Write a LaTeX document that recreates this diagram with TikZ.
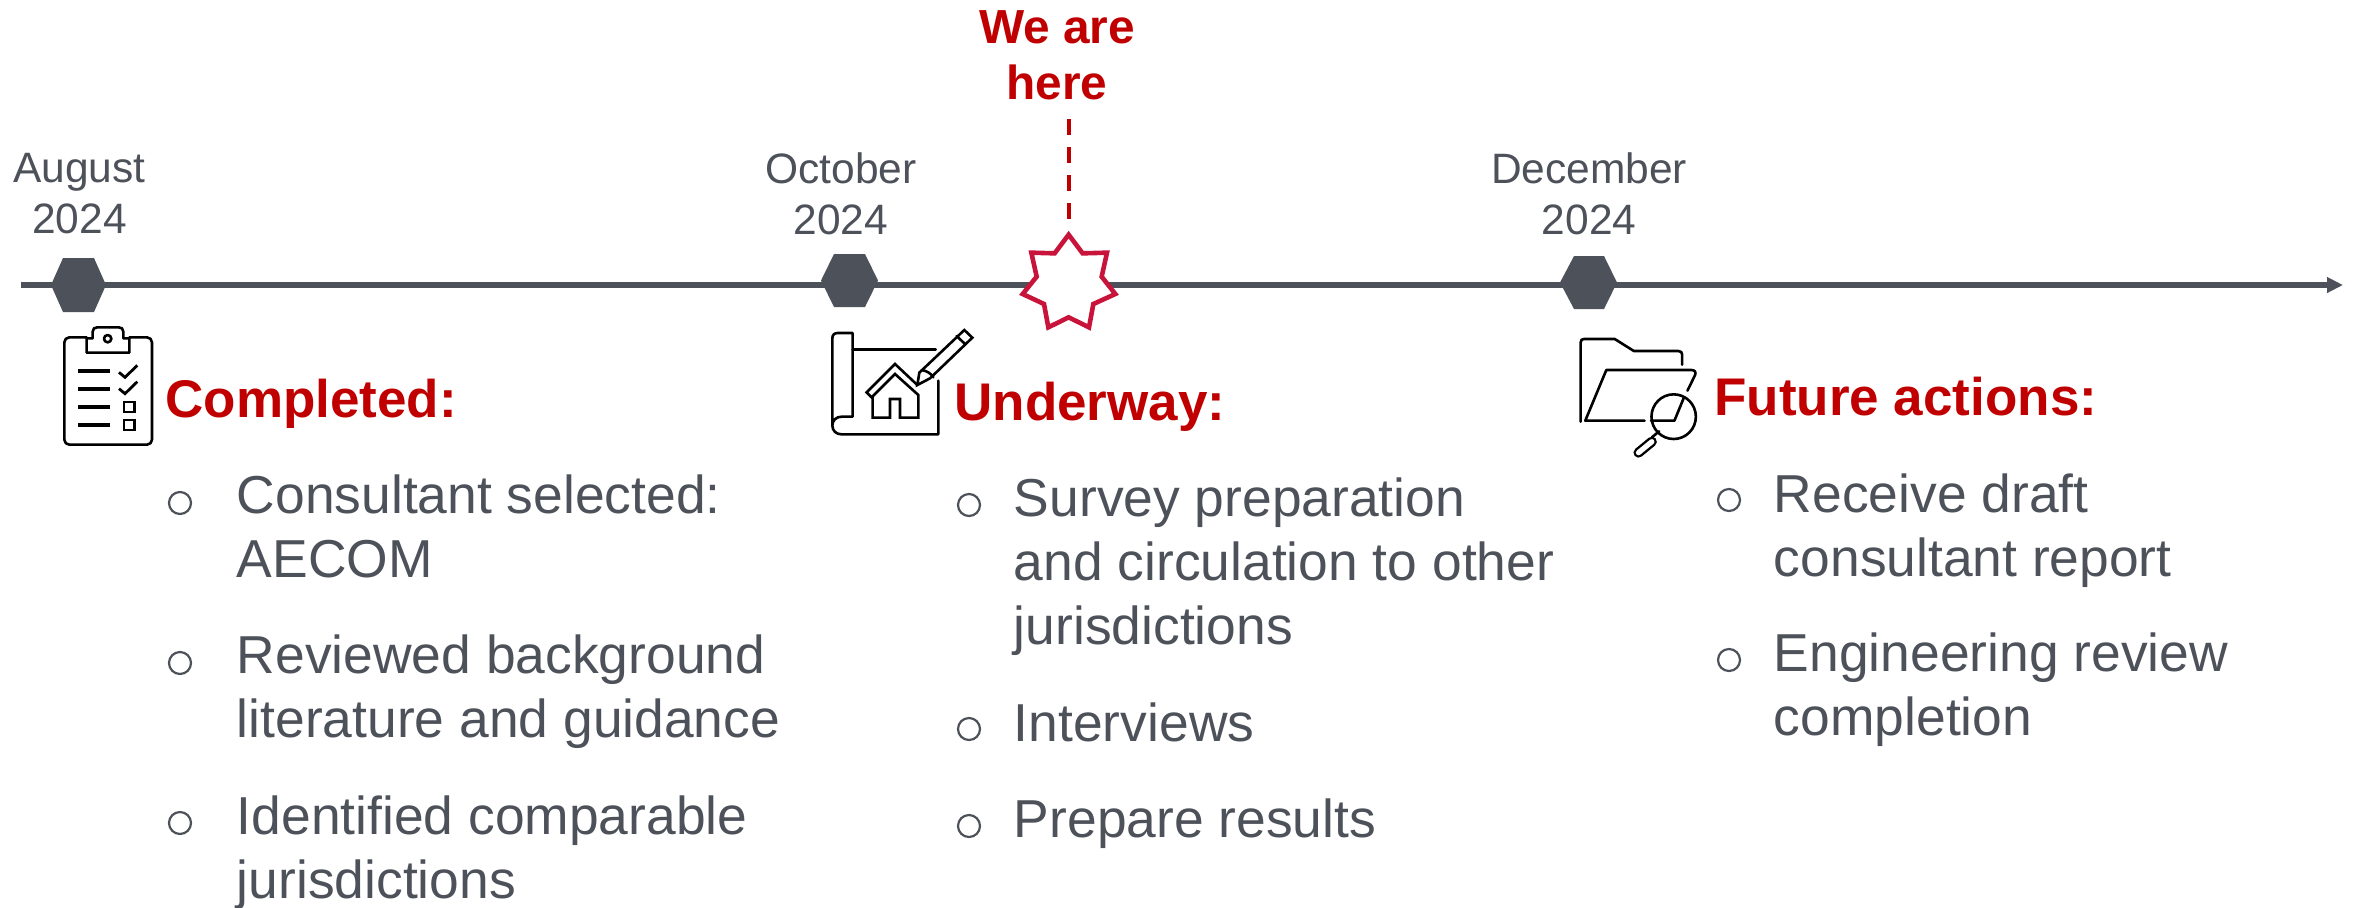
\documentclass[tikz,border=0pt]{standalone}
\usepackage{fontspec}
\setmainfont{Liberation Sans}
\usetikzlibrary{arrows.meta}
\definecolor{slate}{HTML}{4D5159}
\definecolor{redtxt}{HTML}{C00000}
\definecolor{starred}{HTML}{C8133A}
\tikzset{
  x=0.5pt,y=-0.5pt,
  month/.style={anchor=base,align=center,inner sep=0pt,text=slate,font=\fontsize{21.25}{25.5}\selectfont},
  head/.style={anchor=base west,inner sep=0pt,text=redtxt,font=\bfseries\fontsize{26.5}{32}\selectfont},
  here/.style={anchor=base,align=center,inner sep=0pt,text=redtxt,font=\bfseries\fontsize{23.9}{28}\selectfont},
  body/.style={anchor=base west,align=left,inner sep=0pt,text=slate,font=\fontsize{26.7}{32}\selectfont},
  bul/.style={circle,draw=slate,line width=1.1pt,fill=none,minimum size=11pt,inner sep=0pt},
  hexa/.style={fill=slate,draw=none},
  axisline/.style={draw=slate,line width=2.6pt,-{Triangle[length=8pt,width=7.5pt]}},
  icon/.style={draw=black,line width=1.3pt,line join=round,line cap=round,fill=none},
  iconthick/.style={draw=black,line width=2pt},
  hereline/.style={draw=redtxt,line width=2.4pt,dash pattern=on 8pt off 6pt},
}
\begin{document}
\begin{tikzpicture}
\useasboundingbox (0,0) rectangle (2359,907);
% axis
\coordinate (axisstart) at (21,285);
\coordinate (axistip) at (2343,285);
\draw[axisline] (axisstart) -- (axistip);
% hexagons
\path[hexa] (51,285) -- (63,258) -- (94,258) -- (106,285) -- (94,312) -- (63,312) -- cycle;
\path[hexa] (821,280.5) -- (834,254) -- (865,254) -- (878,280.5) -- (865,307) -- (834,307) -- cycle;
\path[hexa] (1560,282.5) -- (1574,256) -- (1604,256) -- (1617,282.5) -- (1604,309) -- (1574,309) -- cycle;
% months
\node[month] (aug) at (79.5,233) {August\\2024};
\node[month] (oct) at (841,234) {October\\2024};
\node[month] (dec) at (1589,234) {December\\2024};
% we are here
\node[here] (we) at (1057,99) {We are\\here};
\coordinate (dashtop) at (1069,119);
\coordinate (dashend) at (1069,221);
\draw[hereline] (dashtop) -- (dashend);
% star
\begin{scope}[shift={(780,0)},scale=1/3]
\draw[draw=starred,fill=white,line width=2.3pt,miter limit=10]
 (866,704) -- (908,760) -- (981,758) -- (965,830) -- (1006,882) -- (940,912) -- (927,982) -- (866,952) -- (805,982) -- (792,912) -- (728,882) -- (770,830) -- (754,758) -- (824,760) -- cycle;
\end{scope}
% headings
\node[head] (completed) at (165,417) {Completed:};
\node[head] (underway) at (954,420) {Underway:};
\node[head] (future) at (1714,415) {Future actions:};
% clipboard icon
\begin{scope}[shift={(0,130)},scale=1/3]
\draw[icon,rounded corners=2.5pt] (260,622) -- (193,622) -- (193,944) -- (456,944) -- (456,622) -- (388,622);
\draw[icon] (260,668) -- (260,625) -- (278,625) -- (278,605) .. controls (278,596) and (284,592) .. (292,592) -- (356,592) .. controls (364,592) and (370,596) .. (370,605) -- (370,625) -- (388,625) -- (388,668) -- cycle;
\draw[icon] (323,626) circle[radius=11];
\foreach \yy in {723,777,831,885}{\draw[iconthick,line cap=butt] (234,\yy) -- (330,\yy);}
\draw[icon,line width=1.4pt,line cap=butt,line join=miter] (357,727) -- (375,742) -- (412,706);
\draw[icon,line width=1.4pt,line cap=butt,line join=miter] (357,776) -- (375,791) -- (412,755);
\draw[icon,line cap=butt,line join=miter] (372,816) rectangle (404,846);
\draw[icon,line cap=butt,line join=miter] (372,870) rectangle (404,900);
\end{scope}
% blueprint icon
\begin{scope}[shift={(780,0)},scale=1/3]
\draw[icon] (157,1276) -- (157,1015) .. controls (157,1005) and (163,999) .. (173,999) -- (218,999) -- (218,1250) -- (185,1250) .. controls (168,1250) and (157,1262) .. (157,1276) .. controls (157,1292) and (168,1303) .. (185,1303) -- (475,1303) -- (475,1142);
\draw[icon] (218,1049) -- (467,1049);
\draw[icon,line join=miter] (412,1155) -- (345,1092) -- (260,1177) -- (275,1192) -- (345,1122) -- (415,1185) -- (415,1253) -- (360,1253) -- (360,1197) -- (330,1197) -- (330,1253) -- (278,1253) -- (278,1190);
\draw[icon,line join=miter] (412,1155) -- (418,1118) -- (553,990) -- (577,1013) -- (450,1135) -- cycle;
\draw[icon] (530,1008) -- (555,1032);
\draw[icon] (425,1110) .. controls (440,1112) and (455,1122) .. (460,1132);
\end{scope}
% folder icon
\begin{scope}[shift={(1480,130)},xscale=1/2.613,yscale=1/3]
\draw[icon] (263,875) -- (263,637) .. controls (263,630) and (266,627) .. (272,627) -- (352,627) -- (402,663) -- (518,663) .. controls (525,663) and (528,667) .. (528,673) -- (528,704);
\draw[icon] (430,872) -- (275,872) -- (330,720) -- (552,720) .. controls (561,720) and (565,726) .. (562,735) -- (542,782);
\draw[icon] (447,872) -- (508,872) -- (533,802);
\draw[icon] (506,860) ellipse[x radius=58,y radius=67];
\draw[icon] (449,922) -- (468,904);
\draw[draw=black,line width=5pt,line cap=round] (449,935) -- (414,968);
\draw[draw=white,line width=2.6pt,line cap=round] (449,935) -- (414,968);
\end{scope}
% completed list
\node[bul] (b1) at (180,503) {};
\node[bul] (b2) at (180,663) {};
\node[bul] (b3) at (180,823) {};
\node[body] (t1) at (236.5,577) {Consultant selected:\\AECOM};
\node[body] (t2) at (236.5,737) {Reviewed background\\literature and guidance};
\node[body] (t3) at (236.5,898) {Identified comparable\\jurisdictions};
% underway list
\node[bul] (b4) at (969,505) {};
\node[bul] (b5) at (969,729) {};
\node[bul] (b6) at (969,826) {};
\node[body] (t4) at (1013.5,644) {Survey preparation\\and circulation to other\\jurisdictions};
\node[body] (t5) at (1013.5,741) {Interviews};
\node[body] (t6) at (1013.5,837) {Prepare results};
% future list
\node[bul] (b7) at (1729,500) {};
\node[bul] (b8) at (1729,660) {};
\node[body] (t7) at (1773.5,576) {Receive draft\\consultant report};
\node[body] (t8) at (1773.5,735) {Engineering review\\completion};
\end{tikzpicture}
\end{document}
